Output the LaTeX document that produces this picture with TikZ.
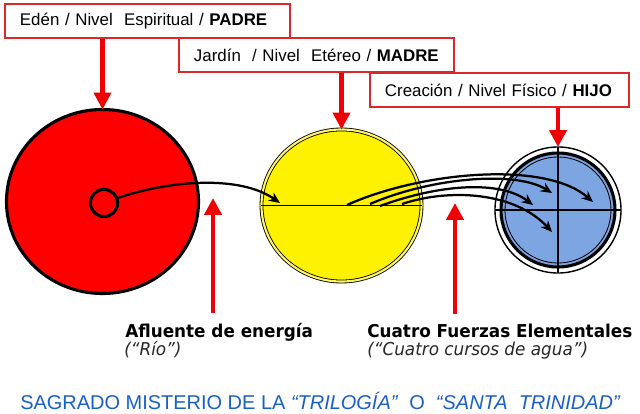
\documentclass[tikz,border=0pt]{standalone}
\usepackage{fontspec}
\setmainfont{Liberation Sans}
\newfontfamily\labelfont[FakeStretch=0.95]{DejaVu Sans}
\usetikzlibrary{arrows.meta,shapes.geometric}
\definecolor{boxred}{RGB}{220,40,40}
\definecolor{arrowred}{RGB}{240,0,0}
\definecolor{skyblue}{RGB}{125,165,225}
\definecolor{titleblue}{RGB}{25,95,200}
\tikzset{
  levelbox/.style={draw=boxred, line width=1.4pt, anchor=north west, inner xsep=0.375cm,
    align=left, minimum height=0.85cm, font=\fontsize{12}{14}\selectfont},
  disc/.style={circle, draw, outer sep=0pt},
  oval/.style={ellipse, draw, outer sep=0pt},
  redarrow/.style={draw=arrowred, line width=3pt, -{Triangle[width=12pt,length=12pt]}},
  flow/.style={line width=1.6pt, -{Stealth[length=8pt,width=7pt]}},
  caption/.style={anchor=base west, inner sep=0pt, outer ysep=7pt,
    font=\labelfont\bfseries\fontsize{12.6}{15}\selectfont},
  subcaption/.style={anchor=base west, inner sep=0pt, text=black!85,
    font=\labelfont\itshape\fontsize{12.6}{15}\selectfont},
}

\begin{document}
\begin{tikzpicture}[x=0.025cm, y=-0.025cm]
    \useasboundingbox (0,0) rectangle (640,414);

    % level boxes
    \node [levelbox, text width=6.375cm] (padre) at (4,3) {Edén / Nivel\ \ Espiritual / \textbf{PADRE}};
    \node [levelbox, text width=6.125cm] (madre) at (178,37) {Jardín\ \ / Nivel\ \ Etéreo / \textbf{MADRE}};
    \node [levelbox, text width=5.725cm] (hijo) at (369,72) {Creación / Nivel Físico / \textbf{HIJO}};

    % the three circles
    \node [oval, fill=red, line width=2.2pt, minimum width=4.8cm, minimum height=4.6cm] (padc) at (102.5,201.5) {};
    \node [disc, line width=2.2pt, minimum size=0.68cm] (seed) at (104,203) {};

    \node [oval, fill=yellow, line width=0.6pt, double=yellow!60!white,
        double distance=1.5pt, minimum width=4.0cm, minimum height=3.8cm] (madc) at (341.5,205.5) {};
    \draw [line width=1.4pt] (madc.west) -- (madc.east);

    \node [disc, fill=white, line width=1pt, minimum size=3.15cm] (hijc) at (558,210) {};
    \node [disc, fill=skyblue, line width=2.2pt, minimum size=2.85cm] (hijin) at (558,210) {};
    \node [disc, line width=0.6pt, minimum size=2.65cm] (hijring) at (558,210) {};
    \draw [line width=1.4pt] (hijc.north) -- (hijc.south);
    \draw [line width=1.4pt] (hijc.west) -- (hijc.east);

    % red pointers from the boxes
    \draw [redarrow] (padre.south -| padc.north) -- (padc.north);
    \draw [redarrow] (madre.south -| madc.north) -- (madc.north);
    \draw [redarrow] (hijo.south -| hijc.north) -- (hijc.north);

    % river
    \coordinate (rioend) at (280,203);
    \draw [flow] (seed.20) .. controls (170,180) and (240,175) .. (rioend);

    % four streams
    \coordinate (s1) at (347,205);
    \coordinate (s2) at (370,204);
    \coordinate (s3) at (380,206);
    \coordinate (s4) at (402,204);
    \coordinate (e1) at (593,202);
    \coordinate (e2) at (552,193);
    \coordinate (e3) at (533,205);
    \coordinate (e4) at (552,232);
    \draw [flow] (s1) .. controls (420,172) and (545,160) .. (e1);
    \draw [flow] (s2) .. controls (430,178) and (515,170) .. (e2);
    \draw [flow] (s3) .. controls (440,184) and (500,180) .. (e3);
    \draw [flow] (s4) .. controls (450,188) and (515,192) .. (e4);

    % captions
    \node [caption] (afl) at (125,337) {Afluente de energía};
    \node [subcaption] (rio) at (124,355) {(“Río”)};
    \node [caption] (cua) at (367,337) {Cuatro Fuerzas Elementales};
    \node [subcaption] (cur) at (367,355) {(“Cuatro cursos de agua”)};

    \coordinate (riotip) at (213,198);
    \coordinate (cuatip) at (455,203);
    \draw [redarrow] (afl.north -| riotip) -- (riotip);
    \draw [redarrow] (cua.north -| cuatip) -- (cuatip);

    \node [anchor=base west, inner sep=0pt, text=titleblue, font=\fontsize{14.2}{16}\selectfont] (title) at (20,409)
        {SAGRADO MISTERIO DE LA \textit{“TRILOGÍA”}\ \ O\ \ \textit{“SANTA\ \ TRINIDAD”}};
\end{tikzpicture}
\end{document}
